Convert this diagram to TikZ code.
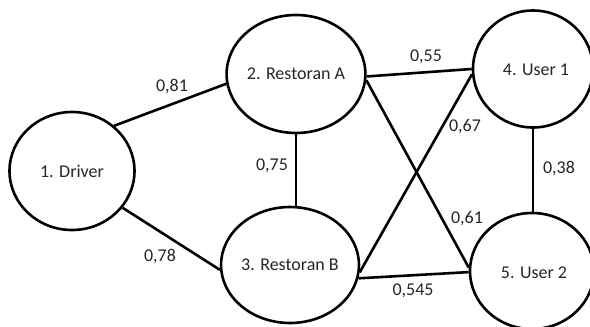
\documentclass[tikz,border=0pt]{standalone}
\usepackage{fontspec}
\setmainfont{Carlito}
\usetikzlibrary{shapes.geometric}
\begin{document}
\begin{tikzpicture}[x=1pt,y=-1pt,
  vert/.style={draw, ellipse, line width=2.6pt, inner sep=0pt, text=black!85, font=\fontsize{18}{21}\selectfont},
  edge/.style={line width=2.6pt},
  wlabel/.style={text=black!85, font=\fontsize{18}{21}\selectfont, inner sep=0pt}]
\useasboundingbox (0,0) rectangle (590,327);
\node[vert, minimum width=125pt, minimum height=118pt] (d) at (72,171) {1. Driver};
\node[vert, minimum width=122pt, minimum height=118pt] (ra) at (296,74) {2. Restoran A};
\node[vert, minimum width=126pt, minimum height=116pt] (rb) at (290,265) {3. Restoran B};
\node[vert, minimum width=120pt, minimum height=117pt] (u1) at (533,69) {};
\node[vert, minimum width=124pt, minimum height=116pt] (u2) at (532,271) {};
\node[text=black!85, font=\fontsize{18}{21}\selectfont, inner sep=0pt] (t4) at (536,70) {4. User 1};
\node[text=black!85, font=\fontsize{18}{21}\selectfont, inner sep=0pt] (t5) at (534,273) {5. User 2};
\draw[edge] (d.47) -- (ra.188);
\draw[edge] (d.-36.5) -- (rb.184.6);
\draw[edge] (ra.south) -- (ra.south |- rb.north);
\draw[edge] (ra.-2.8) -- (u1.180);
\draw[edge] (ra.-5.4) -- (u2.177);
\draw[edge] (rb.-6.4) -- (u1.185.6);
\draw[edge] (rb.-11) -- (u2.181);
\draw[edge] (u1.south) -- (u1.south |- u2.north);
\node[wlabel] (l81) at (172,87) {0,81};
\node[wlabel] (l78) at (160,257) {0,78};
\node[wlabel] (l75) at (272,166) {0,75};
\node[wlabel] (l55) at (426,57) {0,55};
\node[wlabel] (l67) at (465,127) {0,67};
\node[wlabel] (l38) at (559,169) {0,38};
\node[wlabel] (l61) at (467,219) {0,61};
\node[wlabel] (l545) at (413,291) {0,545};
\end{tikzpicture}
\end{document}
